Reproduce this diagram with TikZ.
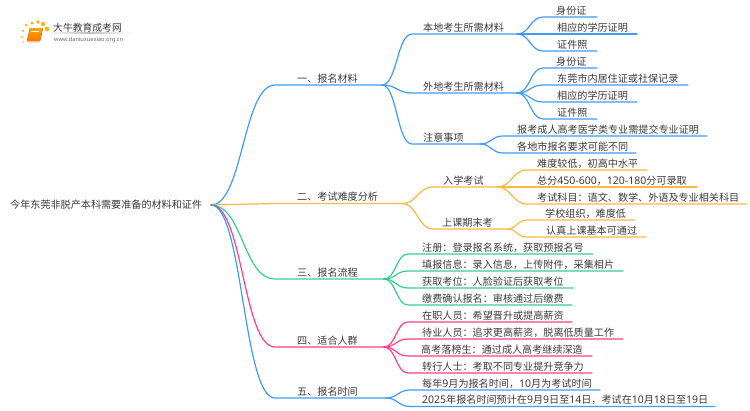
\documentclass[tikz,border=0pt]{standalone}
\usepackage{fontspec}
\setmainfont{Noto Sans CJK SC}
\newfontfamily\latn[Scale=1.04]{Noto Sans}
\usetikzlibrary{calc}
\definecolor{brBlue}{HTML}{3D9BFF}
\definecolor{brOrange}{HTML}{FFB93F}
\definecolor{brGreen}{HTML}{35CE8D}
\definecolor{brPink}{HTML}{FF3D8B}
\definecolor{txt}{HTML}{3A3A3A}
\tikzset{
  lbl/.style={anchor=base west,inner sep=0pt,text=txt,font=\fontsize{10.1}{12}\selectfont},
  conn/.style={line width=1.2pt,line cap=round,line join=round},
}
% colour, parent coordinate, name, x where curve ends, x of line end, y, x of text, text
\newcommand{\bra}[8]{%
  \coordinate (#3-a) at (#4,#6);
  \coordinate (#3) at (#5,#6);
  \node[lbl] (#3-t) at (#7,#6-2.8) {#8};
  \coordinate (#3-m) at ($(#2)!0.5!(#3-a)$);
  \draw[conn,#1] (#2) .. controls (#3-m |- #2) and (#3-m |- #3-a) .. (#3-a) -- (#3);
}
\newcommand{\num}[1]{{\latn #1}}
\begin{document}
\begin{tikzpicture}[x=1pt,y=-1pt]
\useasboundingbox (0,0) rectangle (750,410);
% logo
\foreach \px/\py/\pr in {23/42/0.9,22/37/1.0,23/31/1.2,26/25/1.4,32/23/1.7,38/22/1.9,43/24/2.1,47/29/2.3}
  \fill[orange!60!yellow] (\px,\py) circle (\pr);
\fill[top color=orange!70!yellow,bottom color=orange!90!red] (30,28) -- (43,28) -- (40,41) -- (27,41) -- cycle;
\fill[orange!40!white] (28,41) -- (40,41) -- (39.6,42.6) -- (27.5,42.6) -- cycle;
\draw[white,line width=0.5pt] (31,31) -- (39,31);
\fill[left color=white,right color=white,middle color=black!25] (45,32.7) rectangle (133,33.4);
\node[lbl,font=\fontsize{9.8}{12}\selectfont] (logoA) at (53,31) {大牛教育成考网};
\node[lbl,font=\fontsize{5.45}{7}\selectfont,text=black!60] (logoB) at (54,41) {\latn www.daniuxuexiao.org.cn};
% root
\node[lbl] (root) at (10,208.8) {今年东莞非脱产本科需要准备的材料和证件};
\coordinate (r) at (211,205);
% first level
\bra{brBlue}{r}{A}{275}{382}{85}{297}{一、报名材料}
\bra{brOrange}{r}{B}{275}{402}{203.5}{297}{二、考试难度分析}
\bra{brGreen}{r}{C}{275}{384}{279}{297}{三、报名流程}
\bra{brPink}{r}{D}{275}{384}{347}{297}{四、适合人群}
\bra{brBlue}{r}{E}{275}{386}{398}{297}{五、报名时间}
% branch 1
\bra{brBlue}{A}{A1}{412}{517}{34}{423}{本地考生所需材料}
\bra{brBlue}{A}{A2}{412}{517}{93}{423}{外地考生所需材料}
\bra{brBlue}{A}{A3}{412}{480}{144}{423}{注意事项}
\bra{brBlue}{A1}{A11}{543}{597}{17}{556}{身份证}
\bra{brBlue}{A1}{A12}{543}{637}{34}{557}{相应的学历证明}
\bra{brBlue}{A1}{A13}{543}{597}{51}{557}{证件照}
\bra{brBlue}{A2}{A21}{543}{597}{68}{556}{身份证}
\bra{brBlue}{A2}{A22}{543}{688}{85}{557}{东莞市内居住证或社保记录}
\bra{brBlue}{A2}{A23}{543}{637}{102}{557}{相应的学历证明}
\bra{brBlue}{A2}{A24}{543}{597}{119}{557}{证件照}
\bra{brBlue}{A3}{A31}{503}{707}{136}{517}{报考成人高考医学类专业需提交专业证明}
\bra{brBlue}{A3}{A32}{503}{636}{153}{517}{各地市报名要求可能不同}
% branch 2
\bra{brOrange}{B}{B1}{433}{497}{187}{443}{入学考试}
\bra{brOrange}{B}{B2}{433}{507}{229}{442}{上课期末考}
\bra{brOrange}{B1}{B11}{527}{647}{170}{537}{难度较低，初高中水平}
\bra{brOrange}{B1}{B12}{527}{697}{187}{537}{总分\num{450-600}，\num{120-180}分可录取}
\bra{brOrange}{B1}{B13}{527}{747}{204}{537}{考试科目：语文、数学、外语及专业相关科目}
\bra{brOrange}{B2}{B21}{527}{635}{220}{545}{学校组织，难度低}
\bra{brOrange}{B2}{B22}{527}{646}{237}{546}{认真上课基本可通过}
% branch 3
\bra{brGreen}{C}{C1}{408}{593}{254}{422}{注册：登录报名系统，获取预报名号}
\bra{brGreen}{C}{C2}{408}{623}{271}{422}{填报信息：录入信息，上传附件，采集相片}
\bra{brGreen}{C}{C3}{408}{573}{288}{422}{获取考位：人脸验证后获取考位}
\bra{brGreen}{C}{C4}{408}{572}{305}{422}{缴费确认报名：审核通过后缴费}
% branch 4
\bra{brPink}{D}{D1}{408}{572}{322}{422}{在职人员：希望晋升或提高薪资}
\bra{brPink}{D}{D2}{408}{623}{339}{422}{待业人员：追求更高薪资，脱离低质量工作}
\bra{brPink}{D}{D3}{408}{592}{356}{421}{高考落榜生：通过成人高考继续深造}
\bra{brPink}{D}{D4}{408}{592}{373}{422}{转行人士：考取不同专业提升竞争力}
% branch 5
\bra{brBlue}{E}{E1}{410}{600}{390}{422}{每年\num{9}月为报名时间，\num{10}月为考试时间}
\bra{brBlue}{E}{E2}{410}{715}{406.5}{422}{\num{2025}年报名时间预计在\num{9}月\num{9}日至\num{14}日，考试在\num{10}月\num{18}日至\num{19}日}
\end{tikzpicture}
\end{document}
